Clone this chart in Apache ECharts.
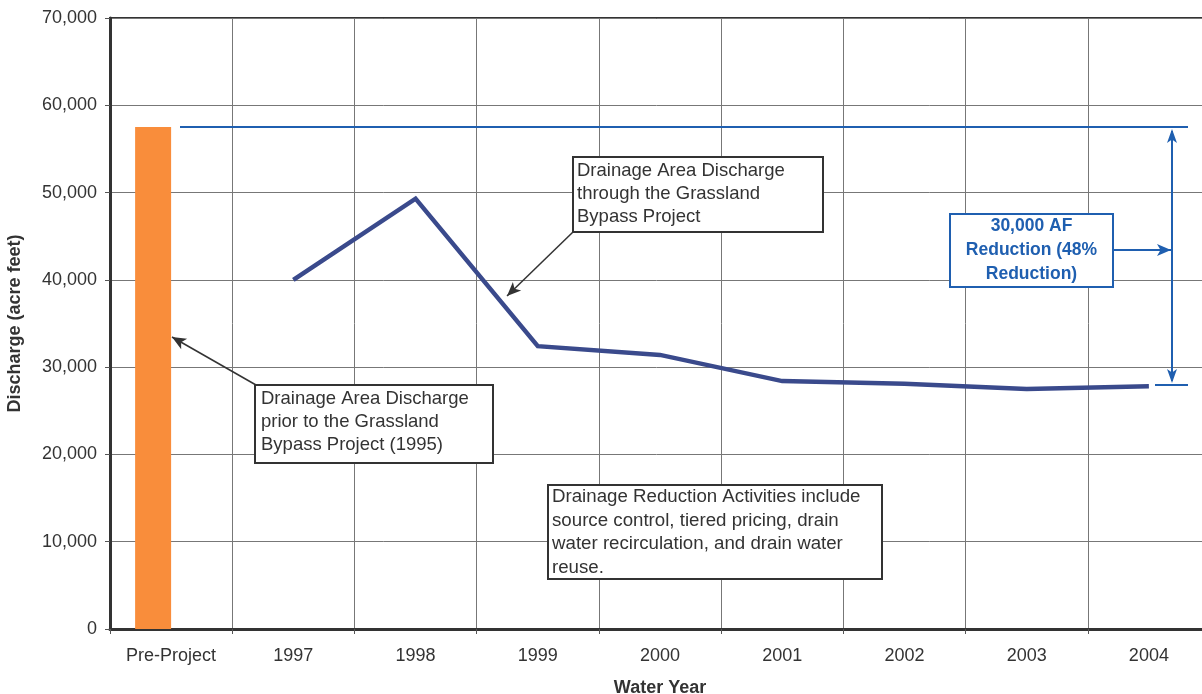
<!DOCTYPE html>
<html>
<head>
<meta charset="utf-8">
<script src="https://cdn.jsdelivr.net/npm/echarts@6/dist/echarts.min.js"></script>
<style>
html,body{margin:0;padding:0;background:#fff;}
#chart{width:1202px;height:694px;}
</style>
</head>
<body>
<div id="chart"></div>
<script>
var categories = ['Pre-Project','1997','1998','1999','2000','2001','2002','2003','2004'];
var preProject = [57500, null, null, null, null, null, null, null, null];
var gbpDischarge = [null, 40000, 49300, 32400, 31400, 28400, 28100, 27500, 27800];
var yTicks = [0, 10000, 20000, 30000, 40000, 50000, 60000, 70000];
var preLevel = 57500;
var postLevel = 27950;

var FONT = '"Liberation Sans", Arial, sans-serif';
var chart = echarts.init(document.getElementById('chart'));

chart.setOption({
  animation: false,
  backgroundColor: '#fff',
  grid: {left: 110, top: 18, right: -8, bottom: 65, outerBoundsMode: 'none', containLabel: false,
    show: true, borderColor: '#333', borderWidth: 2, backgroundColor: 'transparent'},
  xAxis: {
    type: 'category', data: categories, boundaryGap: true,
    name: 'Water Year', nameLocation: 'middle', nameGap: 50,
    nameTextStyle: {fontFamily: FONT, fontSize: 18, fontWeight: 'bold', color: '#333'},
    axisLine: {lineStyle: {color: '#333', width: 3}},
    axisTick: {show: true, length: 5, lineStyle: {color: '#555'}},
    axisLabel: {fontFamily: FONT, fontSize: 18, color: '#333', margin: 18},
    splitLine: {show: true, interval: 0, lineStyle: {color: '#777', width: 1}}
  },
  yAxis: {
    type: 'value', min: yTicks[0], max: yTicks[yTicks.length-1], interval: 10000,
    name: 'Discharge (acre feet)', nameLocation: 'middle', nameGap: 86, nameRotate: 90,
    nameTextStyle: {fontFamily: FONT, fontSize: 18, fontWeight: 'bold', color: '#333'},
    axisLine: {show: true, lineStyle: {color: '#333', width: 3}},
    axisTick: {show: true, length: 5, lineStyle: {color: '#555'}},
    axisLabel: {fontFamily: FONT, fontSize: 18, color: '#333', margin: 13,
      formatter: function(v){ return v.toLocaleString('en-US'); }},
    splitLine: {show: true, lineStyle: {color: '#777', width: 1}}
  },
  series: [
    {type: 'bar', data: preProject, barWidth: 36, barGap: '0%', itemStyle: {color: '#f98d3b'}},
    {type: 'bar', data: categories.map(function(){return null;}), barWidth: 36},
    {type: 'line', data: gbpDischarge, symbol: 'none', connectNulls: false,
      lineStyle: {color: '#3a4a8c', width: 4.5, join: 'miter'}}
  ]
});

var yPre = chart.convertToPixel({yAxisIndex: 0}, preLevel);
var yPost = chart.convertToPixel({yAxisIndex: 0}, postLevel);

function arrowHead(x1, y1, x2, y2, color, len, wid) {
  var a = Math.atan2(y2 - y1, x2 - x1);
  var bx = x2 - len * Math.cos(a), by = y2 - len * Math.sin(a);
  var px = -Math.sin(a) * wid, py = Math.cos(a) * wid;
  return {type: 'polygon', z: 110, shape: {points: [[x2, y2], [bx + px, by + py], [bx + len*0.25*Math.cos(a), by + len*0.25*Math.sin(a)], [bx - px, by - py]]},
    style: {fill: color}};
}
function arrow(x1, y1, x2, y2, color, w) {
  return [
    {type: 'line', z: 110, shape: {x1: x1, y1: y1, x2: x2, y2: y2}, style: {stroke: color, lineWidth: w}},
    arrowHead(x1, y1, x2, y2, color, 14, 6)
  ];
}
function box(x, y, w, h, lines, opts) {
  opts = opts || {};
  var color = opts.color || '#333';
  var els = [{type: 'rect', z: 105, shape: {x: x, y: y, width: w, height: h},
    style: {fill: '#fff', stroke: opts.border || '#333', lineWidth: 2}}];
  lines.forEach(function(t, i){
    els.push({type: 'text', z: 106,
      x: opts.center ? x + w / 2 : x + (opts.pad || 4),
      y: y + opts.firstLine + i * opts.lh,
      style: {text: t, fill: color, font: (opts.bold ? 'bold ' : '') + opts.size + 'px ' + FONT,
        textAlign: opts.center ? 'center' : 'left', textVerticalAlign: 'middle'}});
  });
  return els;
}

var blue = '#1f5fb0';
var g = [];
g.push({type: 'line', z: 100, shape: {x1: 180, y1: yPre, x2: 1188, y2: yPre}, style: {stroke: blue, lineWidth: 2}});
g.push({type: 'line', z: 100, shape: {x1: 1155, y1: yPost, x2: 1188, y2: yPost}, style: {stroke: blue, lineWidth: 2}});
g.push({type: 'line', z: 100, shape: {x1: 1172, y1: yPre + 4, x2: 1172, y2: yPost - 4}, style: {stroke: blue, lineWidth: 2}});
g.push(arrowHead(1172, yPost, 1172, yPre + 2, blue, 14, 5));
g.push(arrowHead(1172, yPre, 1172, yPost - 2, blue, 14, 5));
g = g.concat(arrow(1113, 250, 1171, 250, blue, 2));
g = g.concat(box(950, 214, 163, 73, ['30,000 AF', 'Reduction (48%', 'Reduction)'],
  {color: blue, border: blue, bold: true, size: 17.5, center: true, firstLine: 12, lh: 24}));

g = g.concat(arrow(256, 385, 172, 337, '#333', 1.5));
g = g.concat(box(255, 385, 238, 78, ['Drainage Area Discharge', 'prior to the Grassland', 'Bypass Project (1995)'],
  {size: 18.5, firstLine: 14, lh: 23, pad: 6}));

g = g.concat(arrow(573, 232, 507, 296, '#333', 1.5));
g = g.concat(box(573, 157, 250, 75, ['Drainage Area Discharge', 'through the Grassland', 'Bypass Project'],
  {size: 18.5, firstLine: 14, lh: 23, pad: 4}));

g = g.concat(box(548, 485, 334, 94, ['Drainage Reduction Activities include', 'source control, tiered pricing, drain', 'water recirculation, and drain water', 'reuse.'],
  {size: 18.7, firstLine: 12, lh: 23.5, pad: 4}));

chart.setOption({graphic: {elements: g}});
</script>
</body>
</html>
